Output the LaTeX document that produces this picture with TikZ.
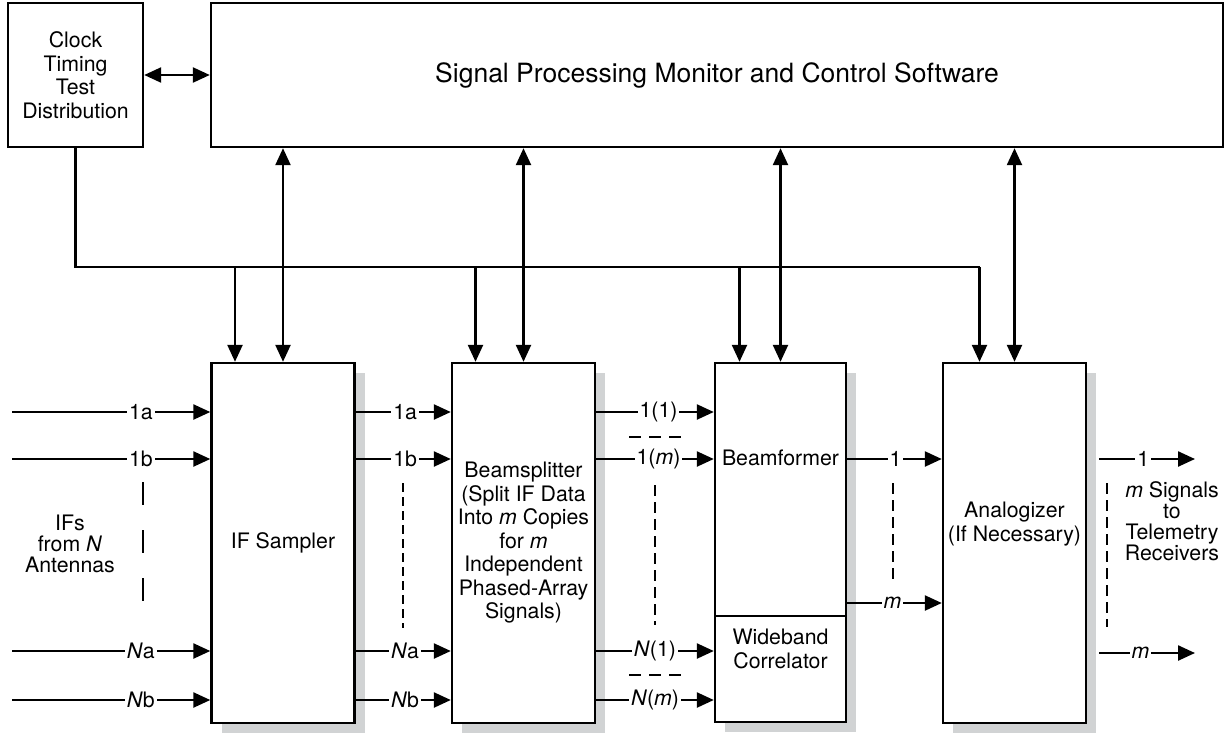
\documentclass[tikz,border=0pt]{standalone}
\usepackage{fontspec}
\setmainfont{TeX Gyre Heros}
\usepackage{tikz}
\usetikzlibrary{arrows.meta,positioning,shadows}
\definecolor{shade}{RGB}{209,211,212}

\begin{document}
\begin{tikzpicture}[
  x=1pt,y=-1pt,
  font=\fontsize{21.3}{23.5}\selectfont,
  box/.style={draw,line width=2.4pt,fill=white,align=center,inner sep=0pt},
  sbox/.style={box,minimum width=143pt,minimum height=360pt,
    drop shadow={shadow xshift=10pt,shadow yshift=-10pt,fill=shade,opacity=1}},
  side/.style={align=center,font=\fontsize{21.3}{21}\selectfont},
  wire/.style={line width=2.4pt},
  arrow/.style={wire,-{Triangle[length=17pt,width=15pt]}},
  both/.style={wire,{Triangle[length=17pt,width=15pt]}-{Triangle[length=17pt,width=15pt]}},
  lbl/.style={fill=white,inner sep=2pt},
  gap/.style={wire,dash pattern=on 11pt off 6pt}
]
  \useasboundingbox (0,0) rectangle (1231,734);

  % top row
  \node[box,minimum width=135pt,minimum height=144pt] (clk) at (75.5,75) {Clock\\Timing\\Test\\Distribution};
  \node[box,minimum width=1012pt,minimum height=144pt,font=\fontsize{26.5}{30}\selectfont] (spm) at (717,75) {Signal Processing Monitor and Control Software};

  % processing chain
  \node[sbox] (ifs) at (283,543) {IF Sampler};
  \node[sbox] (bsp) at (523.5,543) {Beamsplitter\\(Split IF Data\\Into \textit{m} Copies\\for \textit{m}\\Independent\\Phased-Array\\Signals)};
  \node[sbox,minimum width=131pt,minimum height=253pt,
    label={[anchor=center,yshift=-96pt]north:Beamformer}] (bfm) at (780.5,489.5) {};
  \node[sbox,minimum width=131pt,minimum height=106pt,
    label={[anchor=center,align=center,yshift=-34pt]north:Wideband\\Correlator}] (cor) at (780.5,669) {};
  \node[sbox,label={[anchor=center,align=center,yshift=-162pt]north:Analogizer\\(If Necessary)}] (ana) at (1014.5,543) {};

  \node[side] (ifn) at (70,544) {IFs\\from \textit{N}\\Antennas};
  \node[side] (sig) at (1172,521) {\textit{m} Signals\\to\\Telemetry\\Receivers};

  % rows and free ends
  \coordinate (r1) at (12,412);
  \coordinate (r2) at (12,459);
  \coordinate (r3) at (12,651);
  \coordinate (r4) at (12,700);
  \coordinate (r5) at (12,603);
  \coordinate (bus) at (0,267);
  \coordinate (anaR) at ([xshift=12pt]ana.east);
  \coordinate (o1) at (1195,459);
  \coordinate (om) at (1195,653);
  \coordinate (ifsB) at ([xshift=-48pt]ifs.north);
  \coordinate (bspB) at ([xshift=-48pt]bsp.north);
  \coordinate (bfmB) at ([xshift=-41pt]bfm.north);
  \coordinate (anaB) at ([xshift=-35pt]ana.north);

  % control
  \draw[both] (clk.east) -- (spm.west);
  \draw[wire] (clk.south) |- (anaB |- bus);
  \draw[arrow] (anaB |- bus) -- (anaB);
  \draw[arrow] (ifsB |- bus) -- (ifsB);
  \draw[arrow] (bspB |- bus) -- (bspB);
  \draw[arrow] (bfmB |- bus) -- (bfmB);
  \draw[both] (ifs.north) -- (ifs.north |- spm.south);
  \draw[both] (bsp.north) -- (bsp.north |- spm.south);
  \draw[both] (bfm.north) -- (bfm.north |- spm.south);
  \draw[both] (ana.north) -- (ana.north |- spm.south);

  % IF inputs
  \draw[arrow] (r1) -- node[lbl,pos=0.65] {1a} (r1 -| ifs.west);
  \draw[arrow] (r2) -- node[lbl,pos=0.65] {1b} (r2 -| ifs.west);
  \draw[arrow] (r3) -- node[lbl,pos=0.65] {\textit{N}a} (r3 -| ifs.west);
  \draw[arrow] (r4) -- node[lbl,pos=0.65] {\textit{N}b} (r4 -| ifs.west);
  \draw[wire,dash pattern=on 23pt off 25pt] (143,482) -- (143,606);

  % sampler to beamsplitter
  \draw[arrow] (r1 -| ifs.east) -- node[lbl,pos=0.52] {1a} (r1 -| bsp.west);
  \draw[arrow] (r2 -| ifs.east) -- node[lbl,pos=0.52] {1b} (r2 -| bsp.west);
  \draw[arrow] (r3 -| ifs.east) -- node[lbl,pos=0.52] {\textit{N}a} (r3 -| bsp.west);
  \draw[arrow] (r4 -| ifs.east) -- node[lbl,pos=0.52] {\textit{N}b} (r4 -| bsp.west);
  \draw[wire,dash pattern=on 9pt off 5pt] (403,483) -- (403,628);

  % beamsplitter to beamformer / correlator
  \draw[arrow] (r1 -| bsp.east) -- node[lbl,pos=0.53] {1(1)} (r1 -| bfm.west);
  \draw[arrow] (r2 -| bsp.east) -- node[lbl,pos=0.53] {1(\textit{m})} (r2 -| bfm.west);
  \draw[arrow] (r3 -| bsp.east) -- node[lbl,pos=0.5] {\textit{N}(1)} (r3 -| cor.west);
  \draw[arrow] (r4 -| bsp.east) -- node[lbl,pos=0.5] {\textit{N}(\textit{m})} (r4 -| cor.west);
  \draw[wire,dash pattern=on 12pt off 8pt] (629,437) -- (683,437);
  \draw[wire,dash pattern=on 12pt off 8pt] (629,675) -- (683,675);
  \draw[gap] (655,485) -- (655,625);

  % beamformer to analogizer
  \draw[arrow] (r2 -| bfm.east) -- node[lbl,pos=0.51] {1} (r2 -| ana.west);
  \draw[arrow] (r5 -| bfm.east) -- node[lbl,pos=0.48] {\textit{m}} (r5 -| ana.west);
  \draw[gap] (893,483) -- (893,580);

  % outputs
  \draw[arrow] (anaR |- o1) -- node[lbl,pos=0.46] {1} (o1);
  \draw[arrow] (anaR |- om) -- node[lbl,pos=0.43] {\textit{m}} (om);
  \draw[gap] (1107,483) -- (1107,627);
\end{tikzpicture}
\end{document}
